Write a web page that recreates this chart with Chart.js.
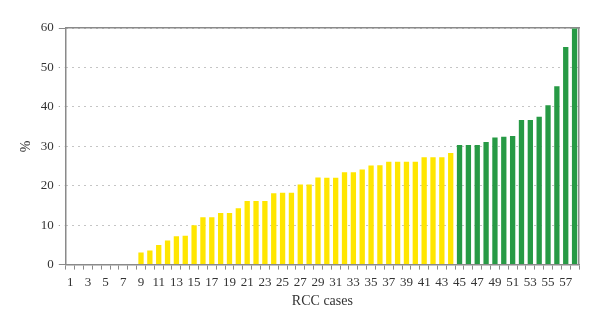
<!DOCTYPE html>
<html>
<head>
<meta charset="utf-8">
<script src="https://cdn.jsdelivr.net/npm/chart.js@4/dist/chart.umd.min.js"></script>
<style>
  html, body { margin: 0; padding: 0; background: #fff; }
  #wrap { width: 600px; height: 326px; }
</style>
</head>
<body>
<div id="wrap"><canvas id="c" width="600" height="326"></canvas></div>
<script>
const cases = Array.from({length: 58}, (_, i) => String(i + 1));
const lowGroupValues = [
  0, 0, 0, 0, 0, 0, 0, 0,
  3.1, 3.6, 5.0, 6.1, 7.2, 7.3, 10.0, 12.0, 12.0, 13.1, 13.1, 14.3,
  16.1, 16.1, 16.1, 18.1, 18.2, 18.2, 20.3, 20.3, 22.1, 22.0, 22.0, 23.4,
  23.4, 24.1, 25.1, 25.2, 26.1, 26.1, 26.1, 26.1, 27.2, 27.2, 27.2, 28.3
];
const highGroupValues = [
  30.3, 30.3, 30.3, 31.1, 32.2, 32.4, 32.6, 36.7, 36.7, 37.5, 40.4, 45.2, 55.2, 59.9
];
const yTicks = [0, 10, 20, 30, 40, 50, 60];

const lowData = cases.map((_, i) => i < lowGroupValues.length ? lowGroupValues[i] : null);
const highData = cases.map((_, i) => i >= lowGroupValues.length ? highGroupValues[i - lowGroupValues.length] : null);

const fontFam = "'Liberation Serif', 'DejaVu Serif', serif";
const axisGrey = '#8a8a8a';

new Chart(document.getElementById('c'), {
  type: 'bar',
  data: {
    labels: cases,
    datasets: [
      { data: lowData, backgroundColor: '#ffe600', grouped: false, barPercentage: 0.6, categoryPercentage: 1 },
      { data: highData, backgroundColor: '#279a45', grouped: false, barPercentage: 0.6, categoryPercentage: 1 }
    ]
  },
  options: {
    responsive: false,
    animation: false,
    layout: { padding: { left: 18, right: 21, top: 28, bottom: 16 } },
    plugins: { legend: { display: false }, tooltip: { enabled: false } },
    scales: {
      x: {
        ticks: {
          autoSkip: false, maxRotation: 0, color: '#333', padding: 5,
          font: { family: fontFam, size: 13 },
          callback: (v, i) => (i % 2 === 0 ? cases[i] : '')
        },
        grid: { offset: true, drawOnChartArea: false, drawTicks: true, tickLength: 5, color: axisGrey, lineWidth: 1 },
        border: { display: true, color: axisGrey, width: 1.5 },
        title: { display: true, text: 'RCC cases', color: '#333', font: { family: fontFam, size: 14 }, padding: { top: -2, bottom: 0 } }
      },
      x2: {
        position: 'top',
        labels: cases,
        ticks: { display: false },
        grid: { display: false, drawTicks: false },
        border: { display: true, color: axisGrey, width: 1.5 }
      },
      y: {
        min: 0, max: 60,
        afterBuildTicks: (axis) => { axis.ticks = yTicks.map(v => ({ value: v })); },
        ticks: { color: '#333', padding: 5, font: { family: fontFam, size: 13 } },
        grid: {
          color: axisGrey, lineWidth: 1, tickLength: 7,
          tickBorderDash: (ctx) => (ctx.tick && (ctx.tick.value === 0 || ctx.tick.value === 60)) ? [] : [1, 5]
        },
        border: { display: true, color: axisGrey, width: 1.5, dash: [1, 5] },
        title: { display: true, text: '%', color: '#333', font: { family: fontFam, size: 14 }, padding: { top: 0, bottom: 1 } }
      },
      y2: {
        position: 'right',
        min: 0, max: 60,
        ticks: { display: false },
        grid: { display: false, drawTicks: false },
        border: { display: true, color: axisGrey, width: 1.5 }
      }
    }
  }
});
</script>
</body>
</html>
